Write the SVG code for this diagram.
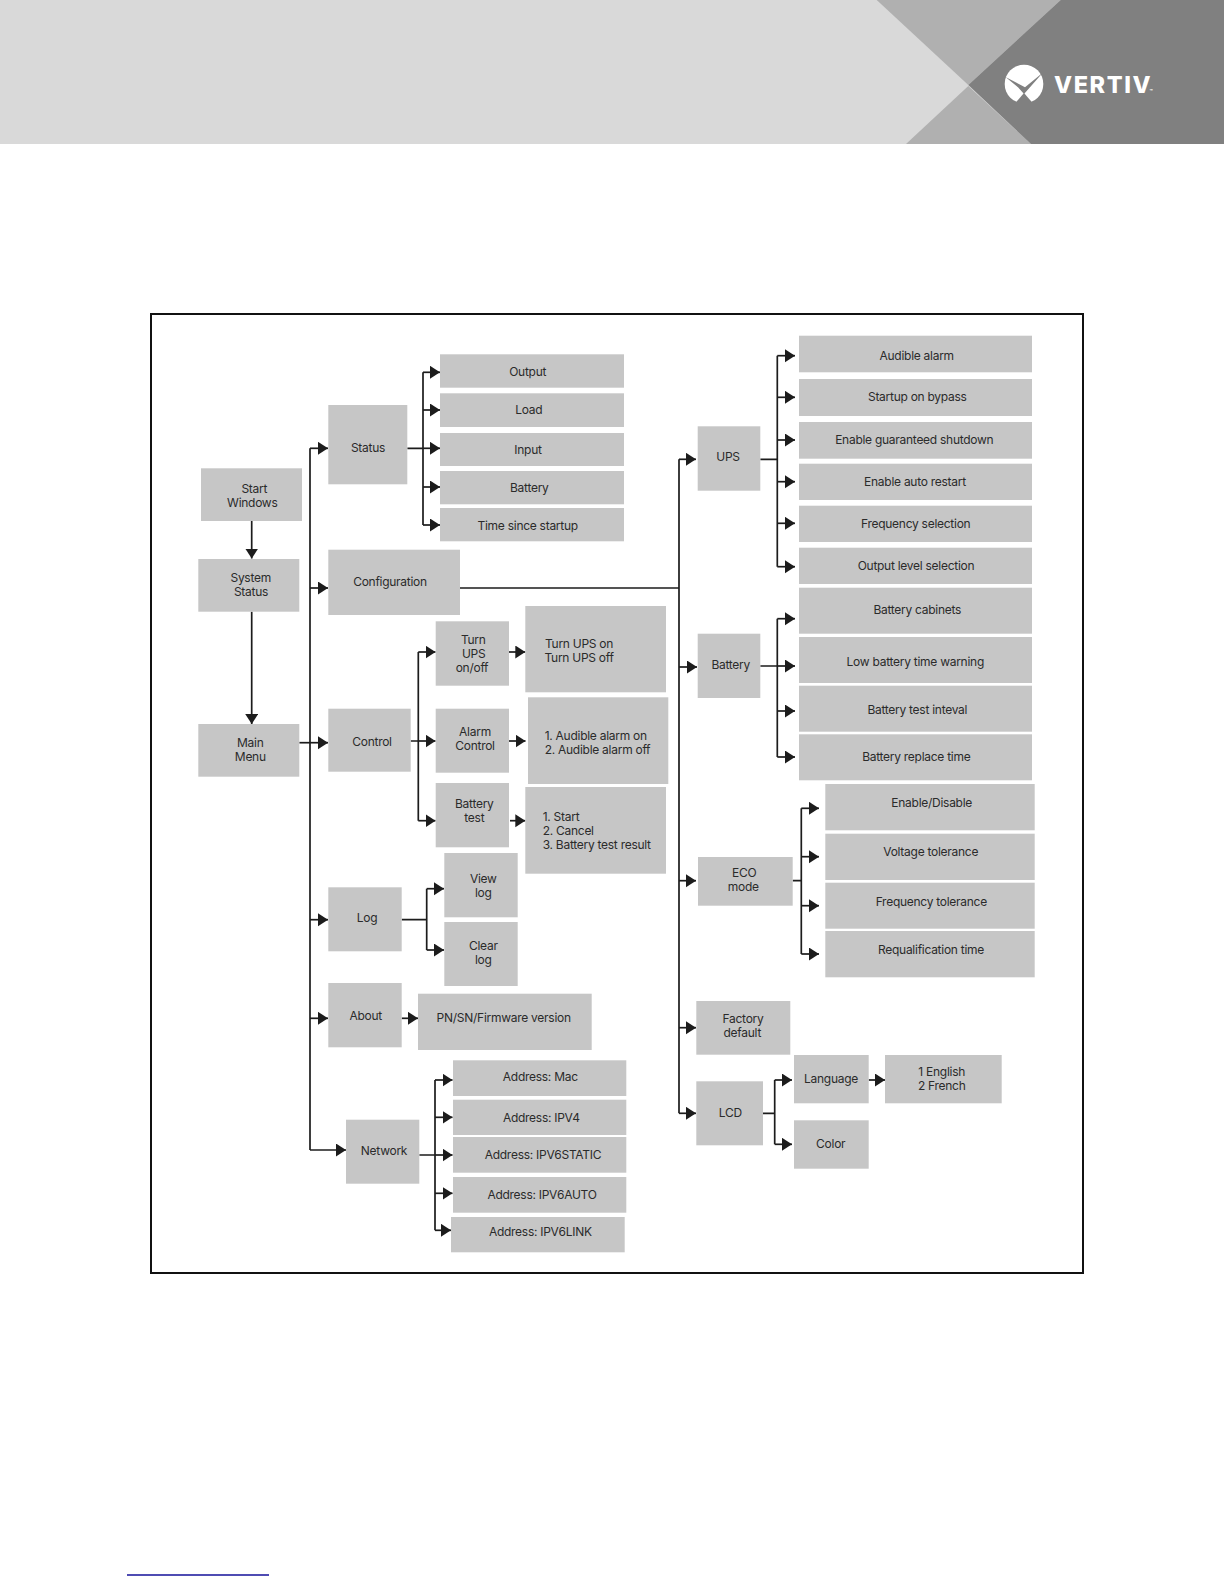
<svg xmlns="http://www.w3.org/2000/svg" width="1224" height="1584" viewBox="0 0 1224 1584">
<defs>
<style>
.n{fill:#c6c6c6}
.t{font-family:"Inter","Liberation Sans",sans-serif;font-size:12px;letter-spacing:-0.27px;fill:#2b2b2b;text-anchor:middle}
.l{text-anchor:start}
.c{fill:none;stroke:#1c1c1c;stroke-width:1.7}
.a{marker-end:url(#ah)}
</style>
<marker id="ah" markerUnits="userSpaceOnUse" markerWidth="11" markerHeight="14" refX="10" refY="6.5" orient="auto"><path d="M0 0L10 6.5L0 13Z" fill="#1c1c1c"/></marker>
</defs>
<rect width="1224" height="1584" fill="#fff"/>
<g id="header">
<rect width="1224" height="144" fill="#d9d9d9"/>
<polygon points="876.7,0 1060.7,0 968.3,85" fill="#b0b0b0"/>
<polygon points="968.3,86 1031,144 906,144" fill="#b0b0b0"/>
<polygon points="1060.7,0 1224,0 1224,144 1031,144 968.3,85" fill="#808080"/>
<circle cx="1024" cy="84" r="19.3" fill="#fff"/>
<polygon points="1005.5,77 1025,87.3 1043,72.5 1030,87.3 1024,94 1018,87.3" fill="#808080"/>
<polygon points="1024,93 1014.5,104 1033.5,104" fill="#808080"/>
<text x="1054" y="93" font-family="Inter,'Liberation Sans',sans-serif" font-weight="800" font-size="23.5" letter-spacing="1.6" fill="#fff">VERTIV</text>
<text x="1149.5" y="93" font-family="Inter,'Liberation Sans',sans-serif" font-weight="700" font-size="5" fill="#fff">™</text>
</g>
<rect id="frame" x="151" y="314" width="932" height="959" fill="none" stroke="#111" stroke-width="2"/>
<line x1="127" y1="1575" x2="269" y2="1575" stroke="#14109a" stroke-width="1.5"/>
<g id="connectors">
<path class="c a" d="M251.7 521V558.5"/>
<path class="c a" d="M251.7 611.7V724"/>
<path class="c" d="M310 448.3V1150"/>
<path class="c a" d="M310 448.3H328"/>
<path class="c a" d="M310 588H328"/>
<path class="c a" d="M299.3 742.7H328"/>
<path class="c a" d="M310 919.7H328"/>
<path class="c a" d="M310 1018.3H328"/>
<path class="c a" d="M310 1150H346"/>
<path class="c" d="M407.3 448.3H423M423 372.3V525"/>
<path class="c a" d="M423 372.3H440"/><path class="c a" d="M423 410H440"/><path class="c a" d="M423 448.3H440"/><path class="c a" d="M423 487H440"/><path class="c a" d="M423 525H440"/>
<path class="c" d="M460 588H679M679 459.3V1113.3"/>
<path class="c a" d="M679 459.3H696"/><path class="c a" d="M679 667H697"/><path class="c a" d="M679 880.7H696"/><path class="c a" d="M679 1027.7H696"/><path class="c a" d="M679 1113.3H696"/>
<path class="c" d="M410.7 741H418.3M418.3 652V820.7"/>
<path class="c a" d="M418.3 652H435.5"/><path class="c a" d="M418.3 741H435.5"/><path class="c a" d="M418.3 820.7H435.5"/>
<path class="c a" d="M509 652H525.3"/><path class="c a" d="M509 741H525.5"/><path class="c a" d="M510 820.7H525.3"/>
<path class="c" d="M401.7 919.7H426.7M426.7 888.7V950"/>
<path class="c a" d="M426.7 888.7H444"/><path class="c a" d="M426.7 950H444"/>
<path class="c a" d="M401.7 1018.3H418"/>
<path class="c" d="M419.3 1155H435M435 1080V1230.3"/>
<path class="c a" d="M435 1080H452.5"/><path class="c a" d="M435 1117.3H452.5"/><path class="c a" d="M435 1155H452.5"/><path class="c a" d="M435 1193.3H452.5"/><path class="c a" d="M435 1230.3H451"/>
<path class="c" d="M760.3 459.3H777.3M777.3 355.7V566.7"/>
<path class="c a" d="M777.3 355.7H795"/><path class="c a" d="M777.3 397.3H795"/><path class="c a" d="M777.3 440H795"/><path class="c a" d="M777.3 481.7H795"/><path class="c a" d="M777.3 523.3H795"/><path class="c a" d="M777.3 566.7H795"/>
<path class="c" d="M760.3 666H777.3M777.3 618.7V757"/>
<path class="c a" d="M777.3 618.7H795"/><path class="c a" d="M777.3 666H795"/><path class="c a" d="M777.3 711H795"/><path class="c a" d="M777.3 757H795"/>
<path class="c" d="M792.7 880.7H801.3M801.3 808.3V954"/>
<path class="c a" d="M801.3 808.3H819"/><path class="c a" d="M801.3 856.7H819"/><path class="c a" d="M801.3 905.7H819"/><path class="c a" d="M801.3 954H819"/>
<path class="c" d="M763 1113.3H774.7M774.7 1080V1144.3"/>
<path class="c a" d="M774.7 1080H792"/><path class="c a" d="M774.7 1144.3H792"/>
<path class="c a" d="M868.7 1080H885"/>
</g>
<g id="start-windows"><rect class="n" x="201" y="468.3" width="101" height="52.7"/><text class="t" x="254.3" y="493.3">Start</text><text class="t" x="252.3" y="507.3">Windows</text></g>
<g id="system-status"><rect class="n" x="198.3" y="559" width="101" height="52.7"/><text class="t" x="250.7" y="582">System</text><text class="t" x="251" y="596">Status</text></g>
<g id="main-menu"><rect class="n" x="198.3" y="724" width="101" height="52.7"/><text class="t" x="250.3" y="746.7">Main</text><text class="t" x="250.3" y="760.7">Menu</text></g>
<g id="status"><rect class="n" x="328.3" y="405" width="79" height="79.3"/><text class="t" x="368" y="451.7">Status</text></g>
<g id="configuration"><rect class="n" x="328.3" y="549.7" width="131.7" height="65.3"/><text class="t" x="390" y="586">Configuration</text></g>
<g id="control"><rect class="n" x="328.3" y="708.7" width="82.4" height="63"/><text class="t" x="372" y="745.7">Control</text></g>
<g id="log"><rect class="n" x="328.3" y="887.3" width="73.4" height="64"/><text class="t" x="367" y="922.3">Log</text></g>
<g id="about"><rect class="n" x="328.3" y="983" width="73.4" height="64.3"/><text class="t" x="365.7" y="1020">About</text></g>
<g id="network"><rect class="n" x="346" y="1119.7" width="73.3" height="64"/><text class="t" x="384" y="1154.7">Network</text></g>
<g id="output"><rect class="n" x="440" y="354.3" width="184" height="33.4"/><text class="t" x="527.7" y="376">Output</text></g>
<g id="load"><rect class="n" x="440" y="393.3" width="184" height="33.7"/><text class="t" x="528.7" y="414.3">Load</text></g>
<g id="input"><rect class="n" x="440" y="433" width="184" height="33"/><text class="t" x="528" y="454">Input</text></g>
<g id="battery-status"><rect class="n" x="440" y="471" width="184" height="33.3"/><text class="t" x="529.3" y="492">Battery</text></g>
<g id="time-since-startup"><rect class="n" x="440" y="508" width="184" height="33.3"/><text class="t" x="527.7" y="530">Time since startup</text></g>
<g id="turn-ups"><rect class="n" x="435.7" y="621.3" width="73.3" height="64.4"/><text class="t" x="473.3" y="644">Turn</text><text class="t" x="473.7" y="658">UPS</text><text class="t" x="472" y="672">on/off</text></g>
<g id="turn-ups-options"><rect class="n" x="525.3" y="606" width="140.7" height="86.3"/><text class="t l" x="545" y="647.7">Turn UPS on</text><text class="t l" x="544.5" y="661.7">Turn UPS off</text></g>
<g id="alarm-control"><rect class="n" x="435.7" y="708.7" width="73.3" height="64"/><text class="t" x="475" y="736">Alarm</text><text class="t" x="475" y="750">Control</text></g>
<g id="alarm-options"><rect class="n" x="528" y="697.3" width="140.3" height="86.7"/><text class="t l" x="544.7" y="740">1. Audible alarm on</text><text class="t l" x="544.7" y="754">2. Audible alarm off</text></g>
<g id="battery-test"><rect class="n" x="435.7" y="783" width="73.3" height="64.3"/><text class="t" x="474.3" y="808.3">Battery</text><text class="t" x="474.3" y="822.3">test</text></g>
<g id="battery-test-options"><rect class="n" x="525.3" y="787" width="140.7" height="86.7"/><text class="t l" x="542.7" y="821">1. Start</text><text class="t l" x="542.7" y="835">2. Cancel</text><text class="t l" x="542.7" y="849">3. Battery test result</text></g>
<g id="view-log"><rect class="n" x="444.3" y="853" width="73.4" height="64.3"/><text class="t" x="483.3" y="883">View</text><text class="t" x="483.3" y="897">log</text></g>
<g id="clear-log"><rect class="n" x="444.3" y="922" width="73.4" height="64"/><text class="t" x="483.3" y="949.7">Clear</text><text class="t" x="483.3" y="964">log</text></g>
<g id="pn-sn"><rect class="n" x="418" y="993.7" width="173.7" height="56.3"/><text class="t" x="503.7" y="1021.7">PN/SN/Firmware version</text></g>
<g id="address-mac"><rect class="n" x="453" y="1060.3" width="173.3" height="35.7"/><text class="t" x="540.3" y="1081.3">Address: Mac</text></g>
<g id="address-ipv4"><rect class="n" x="453" y="1099.7" width="173.3" height="35.3"/><text class="t" x="541.3" y="1122">Address: IPV4</text></g>
<g id="address-ipv6static"><rect class="n" x="453" y="1137" width="173.3" height="35.7"/><text class="t" x="543" y="1159.3">Address: IPV6STATIC</text></g>
<g id="address-ipv6auto"><rect class="n" x="453" y="1177" width="173.3" height="35.7"/><text class="t" x="542" y="1199">Address: IPV6AUTO</text></g>
<g id="address-ipv6link"><rect class="n" x="451" y="1217" width="173.7" height="35.3"/><text class="t" x="540.3" y="1235.7">Address: IPV6LINK</text></g>
<g id="ups"><rect class="n" x="697.7" y="426.3" width="62.6" height="64.4"/><text class="t" x="728" y="460.7">UPS</text></g>
<g id="audible-alarm"><rect class="n" x="799" y="335.7" width="233" height="36.6"/><text class="t" x="916.7" y="359.7">Audible alarm</text></g>
<g id="startup-bypass"><rect class="n" x="799" y="379" width="233" height="37"/><text class="t" x="917.3" y="401.3">Startup on bypass</text></g>
<g id="guaranteed-shutdown"><rect class="n" x="799" y="422" width="233" height="36.7"/><text class="t" x="914.3" y="444">Enable guaranteed shutdown</text></g>
<g id="auto-restart"><rect class="n" x="799" y="463.7" width="233" height="36.3"/><text class="t" x="915" y="485.7">Enable auto restart</text></g>
<g id="frequency-selection"><rect class="n" x="799" y="505.7" width="233" height="36.3"/><text class="t" x="915.7" y="527.7">Frequency selection</text></g>
<g id="output-level"><rect class="n" x="799" y="547.7" width="233" height="36.3"/><text class="t" x="916" y="570.3">Output level selection</text></g>
<g id="battery"><rect class="n" x="697.7" y="633.7" width="62.6" height="64.3"/><text class="t" x="730.7" y="668.7">Battery</text></g>
<g id="battery-cabinets"><rect class="n" x="799" y="587.7" width="233" height="46"/><text class="t" x="917.3" y="613.7">Battery cabinets</text></g>
<g id="low-battery"><rect class="n" x="799" y="637" width="233" height="46"/><text class="t" x="915.3" y="665.7">Low battery time warning</text></g>
<g id="battery-test-interval"><rect class="n" x="799" y="685.7" width="233" height="46"/><text class="t" x="917.3" y="714.3">Battery test inteval</text></g>
<g id="battery-replace"><rect class="n" x="799" y="734.3" width="233" height="46"/><text class="t" x="916.3" y="761">Battery replace time</text></g>
<g id="eco-mode"><rect class="n" x="698" y="857" width="94.7" height="48.7"/><text class="t" x="744.3" y="876.7">ECO</text><text class="t" x="743.3" y="891">mode</text></g>
<g id="enable-disable"><rect class="n" x="825.3" y="784" width="209.4" height="46.3"/><text class="t" x="931.7" y="806.7">Enable/Disable</text></g>
<g id="voltage-tolerance"><rect class="n" x="825.3" y="833.7" width="209.4" height="46.3"/><text class="t" x="930.7" y="856.3">Voltage tolerance</text></g>
<g id="frequency-tolerance"><rect class="n" x="825.3" y="882.7" width="209.4" height="46"/><text class="t" x="931.3" y="906.3">Frequency tolerance</text></g>
<g id="requalification"><rect class="n" x="825.3" y="931" width="209.4" height="46.3"/><text class="t" x="931" y="953.7">Requalification time</text></g>
<g id="factory-default"><rect class="n" x="696.3" y="1001" width="94" height="53.7"/><text class="t" x="743" y="1023.3">Factory</text><text class="t" x="742.3" y="1037">default</text></g>
<g id="lcd"><rect class="n" x="696.3" y="1081.3" width="66.7" height="64"/><text class="t" x="730.3" y="1117.3">LCD</text></g>
<g id="language"><rect class="n" x="794" y="1055" width="74.7" height="48.3"/><text class="t" x="831" y="1083.3">Language</text></g>
<g id="color"><rect class="n" x="794" y="1120.3" width="74.7" height="48.4"/><text class="t" x="830.7" y="1148.3">Color</text></g>
<g id="language-options"><rect class="n" x="885" y="1055" width="116.7" height="48.3"/><text class="t" x="941.7" y="1075.7">1 English</text><text class="t" x="941.7" y="1089.7">2 French</text></g>
</svg>
